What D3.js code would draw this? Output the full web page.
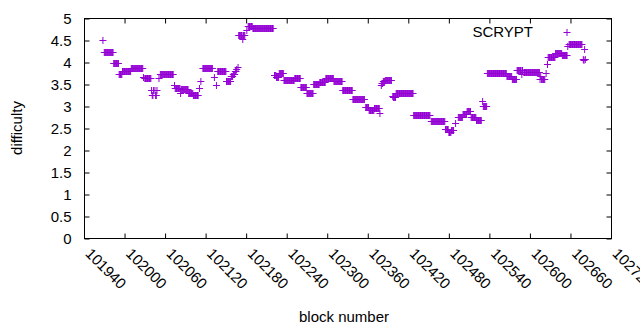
<!DOCTYPE html>
<html>
<head>
<meta charset="utf-8">
<script src="https://cdn.jsdelivr.net/npm/d3@7"></script>
<style>
  html, body { margin: 0; padding: 0; background: #fff; }
  svg { display: block; }
  text { font-family: "Liberation Sans", Arial, sans-serif; fill: #000; }
</style>
</head>
<body>
<svg id="chart" width="640" height="330"></svg>
<script>
// Runs of constant difficulty: block range [runStart, runEnd] with value runValue
const runStart = [101968,101970,101984,101992,101997,102010,102028,102030,
  102040,102041,102043,102045,102046,102048,
  102051,102053,102074,102075,102083,102084,102095,102102,102111,102113,102116,102133,102136,102138,102151,
  102158,102161,102164,102166,102168,
  102169,102175,102176,102181,102183,102190,
  102222,102225,102229,102236,102252,
  102261,102270,102280,102289,102298,102310,102323,102338,102357,102362,102370,102378,
  102380,102381,102383,102386,102397,102398,102402,102428,102454,
  102475,102480,102484,102490,102494,102501,102507,102513,102521,
  102530,102531,102537,102566,102574,102581,102588,102589,102591,
  102615,102616,102617,102624,102626,102627,102638,102648,102656,102658,
  102679,102680,102681,102682];
const runEnd = [101968,101983,101991,101996,102009,102027,102028,102039,
  102040,102042,102043,102045,102047,102048,
  102051,102072,102074,102082,102083,102094,102101,102109,102111,102113,102130,102133,102136,102150,102157,
  102160,102163,102165,102166,102168,
  102174,102175,102178,102181,102189,102220,
  102224,102228,102235,102251,102260,
  102269,102279,102288,102297,102309,102322,102337,102355,102361,102369,102377,102378,
  102380,102382,102385,102395,102397,102401,102427,102452,102474,
  102479,102483,102487,102490,102500,102506,102512,102520,102528,
  102530,102536,102565,102573,102580,102587,102588,102589,102614,
  102615,102616,102622,102624,102626,102637,102647,102655,102656,102677,
  102679,102680,102681,102682];
const runValue = [4.51,4.24,3.99,3.74,3.81,3.88,3.66,3.65,
  3.38,3.27,3.38,3.38,3.27,3.38,
  3.65,3.74,3.49,3.43,3.31,3.40,3.31,3.27,3.42,3.59,3.87,3.67,3.49,3.81,3.59,
  3.70,3.74,3.80,3.85,3.90,
  4.63,4.54,4.63,4.73,4.82,4.79,
  3.72,3.66,3.76,3.61,3.65,
  3.44,3.31,3.52,3.56,3.64,3.58,3.38,3.17,2.98,2.91,2.96,2.86,
  3.50,3.54,3.58,3.61,3.23,3.22,3.31,2.81,2.66,
  2.49,2.41,2.47,2.63,2.77,2.83,2.89,2.75,2.70,
  3.12,3.02,3.77,3.69,3.63,3.84,3.74,3.84,3.78,
  3.63,3.70,3.63,3.76,3.96,4.13,4.22,4.16,4.37,4.42,
  4.08,4.05,4.31,4.07];

const xTicks = [101940,102000,102060,102120,102180,102240,102300,102360,102420,102480,102540,102600,102660,102720];
const yTicks = [0,0.5,1,1.5,2,2.5,3,3.5,4,4.5,5];
const seriesName = "SCRYPT";

// expand runs to one point per block
const points = [];
runStart.forEach((s, i) => {
  d3.range(s, runEnd[i] + 1).forEach(b => points.push({block: b, value: runValue[i]}));
});

const svg = d3.select("#chart");
const L = 84, R = 611, T = 18.5, B = 238.5;
const x = d3.scaleLinear().domain([101940, 102720]).range([L, R]);
const y = d3.scaleLinear().domain([0, 5]).range([B, T]);
const color = "#9400d3";
const fs = 15;

// border
svg.append("rect").attr("x", L + 0.5).attr("y", T).attr("width", R - L).attr("height", B - T)
  .attr("fill", "none").attr("stroke", "#000").attr("stroke-width", 1);

// y axis (left, inward ticks) + mirror
const yAxisL = d3.axisLeft(y).tickValues(yTicks).tickSize(-5).tickPadding(13)
  .tickFormat(d => d3.format("")(d));
const gyl = svg.append("g").attr("transform", `translate(${L + 0.5},0)`).call(yAxisL);
gyl.select(".domain").remove();
gyl.selectAll("text").style("font-size", fs + "px").attr("font-family", "Liberation Sans, Arial, sans-serif");
const gyr = svg.append("g").attr("transform", `translate(${R + 0.5},0)`)
  .call(d3.axisRight(y).tickValues(yTicks).tickSize(-5).tickFormat(""));
gyr.select(".domain").remove();

// x axis (bottom, inward ticks) + mirror
const gxb = svg.append("g").attr("transform", `translate(0,${B})`)
  .call(d3.axisBottom(x).tickValues(xTicks).tickSize(-5).tickFormat(""));
gxb.select(".domain").remove();
const gxt = svg.append("g").attr("transform", `translate(0,${T})`)
  .call(d3.axisTop(x).tickValues(xTicks).tickSize(-5).tickFormat(""));
gxt.select(".domain").remove();
svg.selectAll(".tick line").attr("stroke", "#000");

// rotated x tick labels
svg.append("g").selectAll("text").data(xTicks).join("text")
  .attr("transform", d => `translate(${x(d) + 0.5},${B + 16}) rotate(45)`)
  .attr("text-anchor", "start")
  .style("font-size", fs + "px")
  .text(d => d);

// axis titles
svg.append("text").attr("transform", `translate(22,128) rotate(-90)`)
  .attr("text-anchor", "middle").style("font-size", fs + "px").text("difficulty");
svg.append("text").attr("x", 344).attr("y", 322)
  .attr("text-anchor", "middle").style("font-size", fs + "px").text("block number");

// points
const h = 3.5;
const plus = (px, py) => `M${px - h},${py}H${px + h}M${px},${py - h}V${py + h}`;
svg.append("g").selectAll("path").data(points).join("path")
  .attr("d", d => plus(x(d.block), Math.round(y(d.value)) + 0.5))
  .attr("stroke", color).attr("stroke-width", 1).attr("fill", "none");

// key
svg.append("text").attr("x", 533).attr("y", 37).attr("text-anchor", "end")
  .style("font-size", fs + "px").text(seriesName);
svg.append("path").attr("d", plus(567, 32.5)).attr("stroke", color).attr("stroke-width", 1);
</script>
</body>
</html>
